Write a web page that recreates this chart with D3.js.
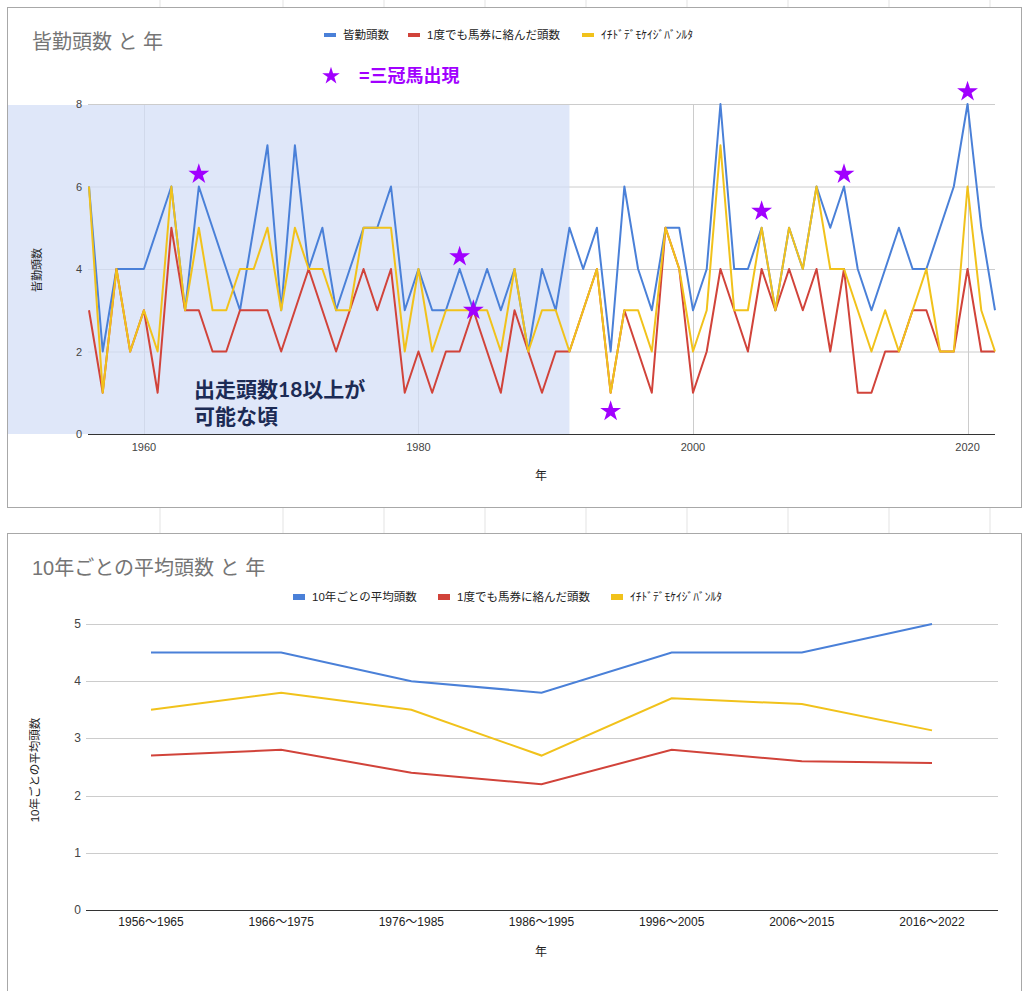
<!DOCTYPE html>
<html>
<head>
<meta charset="utf-8">
<script src="https://cdn.jsdelivr.net/npm/d3@7"></script>
<style>
    body { margin: 0; background: #fff; }
    text { font-family: "Liberation Sans", "Noto Sans CJK JP", sans-serif; }
</style>
</head>
<body>
<svg id="chart" width="1032" height="991"></svg>
<script>
// 皆勤頭数 と 年 (1956〜2022)
const years = [1956, 1957, 1958, 1959, 1960, 1961, 1962, 1963, 1964, 1965,
    1966, 1967, 1968, 1969, 1970, 1971, 1972, 1973, 1974, 1975,
    1976, 1977, 1978, 1979, 1980, 1981, 1982, 1983, 1984, 1985,
    1986, 1987, 1988, 1989, 1990, 1991, 1992, 1993, 1994, 1995,
    1996, 1997, 1998, 1999, 2000, 2001, 2002, 2003, 2004, 2005,
    2006, 2007, 2008, 2009, 2010, 2011, 2012, 2013, 2014, 2015,
    2016, 2017, 2018, 2019, 2020, 2021, 2022]
const kaikin = [6, 2, 4, 4, 4, 5, 6, 3, 6, 5,
    4, 3, 5, 7, 3, 7, 4, 5, 3, 4,
    5, 5, 6, 3, 4, 3, 3, 4, 3, 4,
    3, 4, 2, 4, 3, 5, 4, 5, 2, 6,
    4, 3, 5, 5, 3, 4, 8, 4, 4, 5,
    3, 5, 4, 6, 5, 6, 4, 3, 4, 5,
    4, 4, 5, 6, 8, 5, 3]
const baken = [3, 1, 4, 2, 3, 1, 5, 3, 3, 2,
    2, 3, 3, 3, 2, 3, 4, 3, 2, 3,
    4, 3, 4, 1, 2, 1, 2, 2, 3, 2,
    1, 3, 2, 1, 2, 2, 3, 4, 1, 3,
    2, 1, 5, 4, 1, 2, 4, 3, 2, 4,
    3, 4, 3, 4, 2, 4, 1, 1, 2, 2,
    3, 3, 2, 2, 4, 2, 2]
const keijiban = [6, 1, 4, 2, 3, 2, 6, 3, 5, 3,
    3, 4, 4, 5, 3, 5, 4, 4, 3, 3,
    5, 5, 5, 2, 4, 2, 3, 3, 3, 3,
    2, 4, 2, 3, 3, 2, 3, 4, 1, 3,
    3, 2, 5, 4, 2, 3, 7, 3, 3, 5,
    3, 5, 4, 6, 4, 4, 3, 2, 3, 2,
    3, 4, 2, 2, 6, 3, 2]
const yTicks1 = [0, 2, 4, 6, 8]
const xTicks1 = [1960, 1980, 2000, 2020]

// 三冠馬の★ (年, 高さ)
const starYears = [1964, 1983, 1984, 1994, 2005, 2011, 2020]
const starLevels = [6.3, 4.3, 3.0, 0.55, 5.4, 6.3, 8.3]

// 10年ごとの平均頭数 と 年
const periods = ["1956〜1965", "1966〜1975", "1976〜1985", "1986〜1995", "1996〜2005", "2006〜2015", "2016〜2022"]
const avgKaikin = [4.5, 4.5, 4.0, 3.8, 4.5, 4.5, 5.0]
const avgBaken = [2.7, 2.8, 2.4, 2.2, 2.8, 2.6, 2.57]
const avgKeijiban = [3.5, 3.8, 3.5, 2.7, 3.7, 3.6, 3.14]
const yTicks2 = [0, 1, 2, 3, 4, 5]

const BLUE = "#4a80d8"
const RED = "#d1433a"
const YELLOW = "#f1c21b"
const PURPLE = "#a100ff"

const svg = d3.select("#chart")

// スプレッドシートの枠線 (背景)
const sheetCols = [160, 283, 384, 485, 586, 687, 788, 889, 990]
svg.selectAll("line.sheet")
    .data(sheetCols)
    .enter()
    .append("line")
    .attr("x1", d => d).attr("x2", d => d)
    .attr("y1", 0).attr("y2", 991)
    .attr("stroke", "#e3e3e3")

// 共通: グラフの枠とタイトル、凡例
function drawFrame(top, height, title) {
    svg.append("rect")
        .attr("x", 7.5).attr("y", top + 0.5)
        .attr("width", 1014).attr("height", height)
        .attr("fill", "#fff")
        .attr("stroke", "#a8a8a8")
    svg.append("text")
        .attr("x", 32).attr("y", top + 42)
        .attr("font-size", 20)
        .attr("fill", "#757575")
        .text(title)
}

function drawLegend(items, y, swH) {
    items.forEach(it => {
        svg.append("rect")
            .attr("x", it.x).attr("y", y - swH / 2)
            .attr("width", 12).attr("height", swH)
            .attr("fill", it.color)
        svg.append("text")
            .attr("x", it.x + 19).attr("y", y + 4)
            .attr("font-size", 11.5)
            .attr("fill", "#222")
            .text(it.label)
    })
}

// ---------- 上のグラフ ----------
drawFrame(7, 500, "皆勤頭数 と 年")
drawLegend([
    { x: 324, color: BLUE, label: "皆勤頭数" },
    { x: 408, color: RED, label: "1度でも馬券に絡んだ頭数" },
    { x: 582, color: YELLOW, label: "ｲﾁﾄﾞﾃﾞﾓｹｲｼﾞﾊﾞﾝﾙﾀ" }
], 35, 4)

const x1 = d3.scaleLinear().domain([1956, 2022]).range([89, 995])
const y1 = d3.scaleLinear().domain([0, 8]).range([434, 104])

// 目盛り線
svg.selectAll("line.h1")
    .data(yTicks1.filter(d => d > 0))
    .enter()
    .append("line")
    .attr("x1", 88).attr("x2", 995)
    .attr("y1", d => y1(d) + 0.5).attr("y2", d => y1(d) + 0.5)
    .attr("stroke", "#cccccc")

svg.selectAll("line.v1")
    .data(xTicks1)
    .enter()
    .append("line")
    .attr("x1", d => Math.round(x1(d)) + 0.5).attr("x2", d => Math.round(x1(d)) + 0.5)
    .attr("y1", y1(8)).attr("y2", y1(0))
    .attr("stroke", "#cccccc")

// 出走頭数18以上が可能な頃 (〜1991) の網掛け
svg.append("rect")
    .attr("x", 8).attr("y", y1(8) + 1)
    .attr("width", x1(1991) - 8)
    .attr("height", y1(0) - y1(8) - 1)
    .attr("fill", "#d3def7")
    .attr("opacity", 0.72)

// 軸
svg.append("line")
    .attr("x1", 88).attr("x2", 995)
    .attr("y1", y1(0) + 0.5).attr("y2", y1(0) + 0.5)
    .attr("stroke", "#333")

svg.selectAll("text.yt1")
    .data(yTicks1)
    .enter()
    .append("text")
    .attr("x", 82).attr("y", d => y1(d) + 4)
    .attr("text-anchor", "end")
    .attr("font-size", 11)
    .attr("fill", "#444")
    .text(d => d)

svg.selectAll("text.xt1")
    .data(xTicks1)
    .enter()
    .append("text")
    .attr("x", d => x1(d)).attr("y", 451)
    .attr("text-anchor", "middle")
    .attr("font-size", 11)
    .attr("fill", "#444")
    .text(d => d)

svg.append("text")
    .attr("x", 541).attr("y", 480)
    .attr("text-anchor", "middle")
    .attr("font-size", 12)
    .attr("fill", "#222")
    .text("年")

svg.append("text")
    .attr("transform", "translate(41,270) rotate(-90)")
    .attr("text-anchor", "middle")
    .attr("font-size", 11)
    .attr("fill", "#222")
    .text("皆勤頭数")

// 折れ線
const line1 = d3.line()
    .x((d, i) => x1(years[i]))
    .y(d => y1(d))

const series1 = [
    { values: kaikin, color: BLUE },
    { values: baken, color: RED },
    { values: keijiban, color: YELLOW }
]
series1.forEach(s => {
    svg.append("path")
        .attr("d", line1(s.values))
        .attr("fill", "none")
        .attr("stroke", s.color)
        .attr("stroke-width", 2)
        .attr("stroke-linejoin", "round")
})

// ★ 三冠馬出現
const star = d3.symbol().type(d3.symbolStar).size(135)
starYears.forEach((yr, i) => {
    svg.append("path")
        .attr("d", star())
        .attr("transform", `translate(${x1(yr)},${y1(starLevels[i])})`)
        .attr("fill", PURPLE)
})

svg.append("path")
    .attr("d", d3.symbol().type(d3.symbolStar).size(95)())
    .attr("transform", "translate(331,76)")
    .attr("fill", PURPLE)

svg.append("text")
    .attr("x", 359).attr("y", 82)
    .attr("font-size", 18)
    .attr("font-weight", "bold")
    .attr("fill", PURPLE)
    .style("font-family", "'Noto Sans CJK JP', sans-serif")
    .text("=三冠馬出現")

// 注記 (行間が狭いので行の高さが小さいLatoを先頭に)
const note = svg.append("text")
    .attr("x", 194).attr("y", 397)
    .attr("font-size", 21)
    .attr("font-weight", "bold")
    .attr("fill", "#1c2b55")
    .style("font-family", "Lato, 'Noto Sans CJK JP', sans-serif")
note.append("tspan").attr("x", 194).text("出走頭数18以上が")
note.append("tspan").attr("x", 194).attr("dy", 27).text("可能な頃")

// ---------- 下のグラフ ----------
drawFrame(533, 470, "10年ごとの平均頭数 と 年")
drawLegend([
    { x: 293, color: BLUE, label: "10年ごとの平均頭数" },
    { x: 438, color: RED, label: "1度でも馬券に絡んだ頭数" },
    { x: 611, color: YELLOW, label: "ｲﾁﾄﾞﾃﾞﾓｹｲｼﾞﾊﾞﾝﾙﾀ" }
], 597, 6)

const x2 = d3.scalePoint().domain(periods).range([151, 932])
const y2 = d3.scaleLinear().domain([0, 5]).range([910, 624])

svg.selectAll("line.h2")
    .data(yTicks2.filter(d => d > 0))
    .enter()
    .append("line")
    .attr("x1", 86).attr("x2", 998)
    .attr("y1", d => Math.round(y2(d)) + 0.5).attr("y2", d => Math.round(y2(d)) + 0.5)
    .attr("stroke", "#cccccc")

svg.append("line")
    .attr("x1", 86).attr("x2", 998)
    .attr("y1", y2(0) + 0.5).attr("y2", y2(0) + 0.5)
    .attr("stroke", "#333")

svg.selectAll("text.yt2")
    .data(yTicks2)
    .enter()
    .append("text")
    .attr("x", 81).attr("y", d => y2(d) + 4)
    .attr("text-anchor", "end")
    .attr("font-size", 12)
    .attr("fill", "#444")
    .text(d => d)

svg.selectAll("text.xt2")
    .data(periods)
    .enter()
    .append("text")
    .attr("x", d => x2(d)).attr("y", 926)
    .attr("text-anchor", "middle")
    .attr("font-size", 12)
    .attr("fill", "#222")
    .text(d => d)

svg.append("text")
    .attr("x", 541).attr("y", 956)
    .attr("text-anchor", "middle")
    .attr("font-size", 12)
    .attr("fill", "#222")
    .text("年")

svg.append("text")
    .attr("transform", "translate(39,770) rotate(-90)")
    .attr("text-anchor", "middle")
    .attr("font-size", 11.5)
    .attr("fill", "#222")
    .text("10年ごとの平均頭数")

const line2 = d3.line()
    .x((d, i) => x2(periods[i]))
    .y(d => y2(d))

const series2 = [
    { values: avgKaikin, color: BLUE },
    { values: avgBaken, color: RED },
    { values: avgKeijiban, color: YELLOW }
]
series2.forEach(s => {
    svg.append("path")
        .attr("d", line2(s.values))
        .attr("fill", "none")
        .attr("stroke", s.color)
        .attr("stroke-width", 2)
})
</script>
</body>
</html>
